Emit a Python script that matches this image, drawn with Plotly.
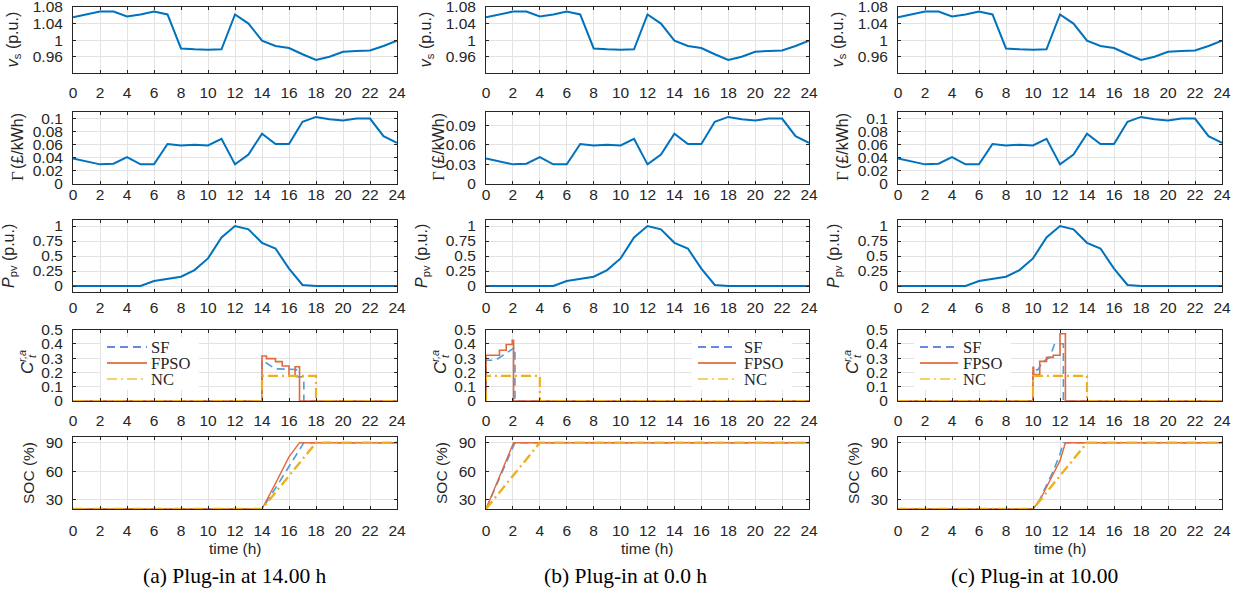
import plotly.graph_objects as go

W, H = 1240, 597

# ---------------- data ----------------
hours = list(range(25))
x_ticks = list(range(0, 25, 2))

v_s = [1.055, 1.062, 1.069, 1.069, 1.057, 1.062, 1.069, 1.062, 0.980, 0.978, 0.977,
       0.978, 1.062, 1.040, 0.999, 0.986, 0.981, 0.966, 0.952, 0.960, 0.972, 0.974,
       0.975, 0.986, 0.999]
price = [0.039, 0.0345, 0.030, 0.031, 0.041, 0.030, 0.030, 0.061, 0.059, 0.060, 0.059,
         0.069, 0.030, 0.045, 0.077, 0.061, 0.061, 0.095, 0.1025, 0.099, 0.097, 0.100,
         0.100, 0.073, 0.063]
p_pv = [0, 0, 0, 0, 0, 0, 0.083, 0.116, 0.155, 0.265, 0.46, 0.81, 1.0, 0.945, 0.72,
        0.624, 0.29, 0.017, 0, 0, 0, 0, 0, 0, 0]

# charging rate C_t^{r,a}  (a) plug-in 14.00 h
sf_rate_a_t = [0, 14, 14, 15.0, 16.55, 16.55, 17.1, 17.1, 24]
sf_rate_a_v = [0, 0, 0.285, 0.225, 0.22, 0.17, 0.17, 0, 0]
fpso_rate_a_t = [0, 14, 14, 14.33, 15.0, 15.5, 16.0, 16.45, 16.78, 16.78, 24]
fpso_rate_a_v = [0, 0, 0.315, 0.296, 0.275, 0.245, 0.176, 0.24, 0.24, 0, 0]
nc_rate_a_t = [0, 14, 14, 18, 18, 24]
nc_rate_a_v = [0, 0, 0.175, 0.175, 0, 0]

# (b) plug-in 0.0 h
sf_rate_b_t = [0, 0, 0.7, 2.0, 2.15, 2.15, 24]
sf_rate_b_v = [0, 0.285, 0.285, 0.37, 0.375, 0, 0]
fpso_rate_b_t = [0, 0, 1.0, 1.5, 1.95, 2.05, 2.05, 24]
fpso_rate_b_v = [0, 0.32, 0.355, 0.395, 0.425, 0.425, 0, 0]
nc_rate_b_t = [0, 0, 4, 4, 24]
nc_rate_b_v = [0, 0.175, 0.175, 0, 0]

# (c) plug-in 10.00 h
sf_rate_c_t = [0, 10, 10, 10.35, 10.75, 11.25, 11.6, 12.25, 12.25, 24]
sf_rate_c_v = [0, 0, 0.218, 0.218, 0.277, 0.305, 0.40, 0.40, 0, 0]
fpso_rate_c_t = [0, 10, 10, 10.05, 10.5, 11.0, 11.5, 12.0, 12.4, 12.4, 24]
fpso_rate_c_v = [0, 0, 0.235, 0.185, 0.277, 0.305, 0.32, 0.47, 0.47, 0, 0]
nc_rate_c_t = [0, 10, 10, 14, 14, 24]
nc_rate_c_v = [0, 0, 0.175, 0.175, 0, 0]

# state of charge (%)
sf_soc_a_t = [0, 14, 15, 16, 17.1, 24]
sf_soc_a_v = [20, 20, 42, 65, 90, 90]
fpso_soc_a_t = [0, 14, 15, 16, 16.78, 24]
fpso_soc_a_v = [20, 20, 47, 75, 90, 90]
nc_soc_a_t = [0, 14, 18, 24]
nc_soc_a_v = [20, 20, 90, 90]

sf_soc_b_t = [0, 1, 2.15, 24]
sf_soc_b_v = [20, 52, 90, 90]
fpso_soc_b_t = [0, 1, 2.05, 24]
fpso_soc_b_v = [20, 55, 90, 90]
nc_soc_b_t = [0, 4, 24]
nc_soc_b_v = [20, 90, 90]

sf_soc_c_t = [0, 10, 10.5, 11, 11.5, 12, 12.25, 24]
sf_soc_c_v = [20, 20, 30, 45, 60, 78, 90, 90]
fpso_soc_c_t = [0, 10, 10.5, 11, 11.5, 12, 12.4, 24]
fpso_soc_c_v = [20, 20, 29, 43, 56, 71, 90, 90]
nc_soc_c_t = [0, 10, 14, 24]
nc_soc_c_v = [20, 20, 90, 90]

legend_names = ["SF", "FPSO", "NC"]
captions = ["(a) Plug-in at 14.00 h", "(b) Plug-in at 0.0 h", "(c) Plug-in at 10.00"]

vs_ticks = [0.96, 1, 1.04, 1.08]
vs_ticktext = ["0.96", "1", "1.04", "1.08"]
price_ticks_ac = [0, 0.02, 0.04, 0.06, 0.08, 0.1]
price_ticktext_ac = ["0", "0.02", "0.04", "0.06", "0.08", "0.1"]
price_ticks_b = [0, 0.03, 0.06, 0.09]
price_ticktext_b = ["0", "0.03", "0.06", "0.09"]
pv_ticks = [0, 0.25, 0.5, 0.75, 1]
pv_ticktext = ["0", "0.25", "0.5", "0.75", "1"]
rate_ticks = [0, 0.1, 0.2, 0.3, 0.4, 0.5]
rate_ticktext = ["0", "0.1", "0.2", "0.3", "0.4", "0.5"]
soc_ticks = [30, 60, 90]
soc_ticktext = ["30", "60", "90"]

# ---------------- style / layout ----------------
BLUE = "#0072BD"
SF_C, FPSO_C, NC_C = "#4C9EDD", "#E2693C", "#EDB120"
SF_LEG, FPSO_LEG, NC_LEG = "#3560E0", "#D95319", "#F3D26E"
SANS = "Liberation Sans, Arial, sans-serif"
SERIF = "Liberation Serif, Times New Roman, serif"
TXT = "#262626"

col_left = [73, 486, 898]
col_right = [397, 809, 1222]
row_top = [7, 112, 220, 329.5, 437]
row_bot = [73.3, 184, 292, 401, 509]
x_standoff = [5, -4, 1, 5, 7]


def fx(px):
    return px / W


def fy(py):
    return 1 - py / H


fig = go.Figure()

rate_data = [
    (sf_rate_a_t, sf_rate_a_v, fpso_rate_a_t, fpso_rate_a_v, nc_rate_a_t, nc_rate_a_v),
    (sf_rate_b_t, sf_rate_b_v, fpso_rate_b_t, fpso_rate_b_v, nc_rate_b_t, nc_rate_b_v),
    (sf_rate_c_t, sf_rate_c_v, fpso_rate_c_t, fpso_rate_c_v, nc_rate_c_t, nc_rate_c_v),
]
soc_data = [
    (sf_soc_a_t, sf_soc_a_v, fpso_soc_a_t, fpso_soc_a_v, nc_soc_a_t, nc_soc_a_v),
    (sf_soc_b_t, sf_soc_b_v, fpso_soc_b_t, fpso_soc_b_v, nc_soc_b_t, nc_soc_b_v),
    (sf_soc_c_t, sf_soc_c_v, fpso_soc_c_t, fpso_soc_c_v, nc_soc_c_t, nc_soc_c_v),
]

SF_DASH = "8px,5px"
NC_DASH = "10px,4px,2px,4px"

annotations = []
shapes = []

for r in range(5):
    for c in range(3):
        n = r * 3 + c + 1
        xid = "x" if n == 1 else f"x{n}"
        yid = "y" if n == 1 else f"y{n}"
        xname = "xaxis" if n == 1 else f"xaxis{n}"
        yname = "yaxis" if n == 1 else f"yaxis{n}"

        if r == 0:
            yr, tv, tt = [0.92, 1.08], vs_ticks, vs_ticktext
            fig.add_trace(go.Scatter(x=hours, y=v_s, mode="lines", xaxis=xid, yaxis=yid,
                                     line=dict(color=BLUE, width=2), showlegend=False))
        elif r == 1:
            yr = [0, 0.11]
            tv, tt = (price_ticks_b, price_ticktext_b) if c == 1 else (price_ticks_ac, price_ticktext_ac)
            fig.add_trace(go.Scatter(x=hours, y=price, mode="lines", xaxis=xid, yaxis=yid,
                                     line=dict(color=BLUE, width=2), showlegend=False))
        elif r == 2:
            yr, tv, tt = [-0.1, 1.1], pv_ticks, pv_ticktext
            fig.add_trace(go.Scatter(x=hours, y=p_pv, mode="lines", xaxis=xid, yaxis=yid,
                                     line=dict(color=BLUE, width=2), showlegend=False))
        elif r == 3:
            yr, tv, tt = [0, 0.5], rate_ticks, rate_ticktext
            st, sv, ft, fv, nt, nv = rate_data[c]
            fig.add_trace(go.Scatter(x=st, y=sv, mode="lines", xaxis=xid, yaxis=yid,
                                     line=dict(color=SF_C, width=1.6, dash=SF_DASH), showlegend=False))
            fig.add_trace(go.Scatter(x=ft, y=fv, mode="lines", xaxis=xid, yaxis=yid,
                                     line=dict(color=FPSO_C, width=1.6, shape="hv"), showlegend=False))
            fig.add_trace(go.Scatter(x=nt, y=nv, mode="lines", xaxis=xid, yaxis=yid,
                                     line=dict(color=NC_C, width=2.2, dash=NC_DASH), showlegend=False))
        else:
            yr, tv, tt = [20, 96], soc_ticks, soc_ticktext
            st, sv, ft, fv, nt, nv = soc_data[c]
            fig.add_trace(go.Scatter(x=st, y=sv, mode="lines", xaxis=xid, yaxis=yid,
                                     line=dict(color=SF_C, width=1.6, dash=SF_DASH), showlegend=False))
            fig.add_trace(go.Scatter(x=ft, y=fv, mode="lines", xaxis=xid, yaxis=yid,
                                     line=dict(color=FPSO_C, width=1.4), showlegend=False))
            fig.add_trace(go.Scatter(x=nt, y=nv, mode="lines", xaxis=xid, yaxis=yid,
                                     line=dict(color=NC_C, width=2.4, dash=NC_DASH), showlegend=False))

        common = dict(ticks="inside", ticklen=3, tickcolor=TXT, showline=True, linecolor=TXT,
                      linewidth=1, mirror="ticks", showgrid=True, gridcolor="#E3E3E3",
                      gridwidth=1, zeroline=False, automargin=False, ticklabeloverflow="allow",
                      tickfont=dict(family=SANS, size=15.5, color=TXT))
        fig.layout[xname] = dict(domain=[fx(col_left[c]), fx(col_right[c])], range=[0, 24],
                                 tickmode="array", tickvals=x_ticks, anchor=yid,
                                 ticklabelstandoff=x_standoff[r], **common)
        fig.layout[yname] = dict(domain=[fy(row_bot[r]), fy(row_top[r])], range=yr,
                                 tickmode="array", tickvals=tv, ticktext=tt, anchor=xid,
                                 ticklabelstandoff=6, **common)

# ---------------- y-axis titles ----------------
row_mid = [(row_top[i] + row_bot[i]) / 2 for i in range(5)]
for c in range(3):
    L = col_left[c]
    annotations.append(dict(text="<i>v</i><sub>s</sub> (p.u.)", x=fx(L - 60), y=fy(row_mid[0]),
                            textangle=-90, font=dict(family=SANS, size=16, color=TXT)))
    gshift = 8 if c == 1 else 0
    annotations.append(dict(text="(£/kWh)", x=fx(L - 56 + gshift), y=fy(141),
                            textangle=-90, font=dict(family=SANS, size=16, color=TXT)))
    annotations.append(dict(text="Γ", x=fx(L - 56 + gshift), y=fy(176),
                            textangle=-90, font=dict(family=SERIF, size=17, color=TXT)))
    annotations.append(dict(text="<i>P</i><sub>pv</sub> (p.u.)", x=fx(L - 64), y=fy(row_mid[2]),
                            textangle=-90, font=dict(family=SANS, size=16, color=TXT)))
    annotations.append(dict(text="<i>C</i>", x=fx(L - 46), y=fy(368),
                            textangle=-90, font=dict(family=SANS, size=17, color=TXT)))
    annotations.append(dict(text="<i>r,a</i>", x=fx(L - 51), y=fy(356),
                            textangle=-90, font=dict(family=SANS, size=11, color=TXT)))
    annotations.append(dict(text="<i>t</i>", x=fx(L - 41), y=fy(356),
                            textangle=-90, font=dict(family=SANS, size=11, color=TXT)))
    annotations.append(dict(text="SOC (%)", x=fx(L - 44), y=fy(row_mid[4]),
                            textangle=-90, font=dict(family=SANS, size=15.5, color=TXT)))
    mid = (col_left[c] + col_right[c]) / 2
    annotations.append(dict(text="time (h)", x=fx(mid), y=fy(548),
                            font=dict(family=SANS, size=15.5, color=TXT)))

caption_x = [235, 625, 1034]
for c in range(3):
    annotations.append(dict(text=captions[c], x=fx(caption_x[c]), y=fy(576),
                            font=dict(family=SERIF, size=21.5, color="black")))

# ---------------- legends ----------------
leg_line = [(34, 74, 76), (212, 250, 256), (22, 60, 63)]
leg_rows = [347, 363, 379]
leg_styles = [(SF_LEG, 1.6, SF_DASH), (FPSO_LEG, 1.6, "solid"), (NC_LEG, 2.2, NC_DASH)]
for c in range(3):
    L = col_left[c]
    x0, x1, xt = leg_line[c]
    shapes.append(dict(type="rect", xref="paper", yref="paper",
                       x0=fx(L + x0 - 6), x1=fx(L + xt + 50), y0=fy(390), y1=fy(337),
                       fillcolor="white", line=dict(width=0), layer="above"))
    for k in range(3):
        col, wdt, dsh = leg_styles[k]
        shapes.append(dict(type="line", xref="paper", yref="paper",
                           x0=fx(L + x0), x1=fx(L + x1), y0=fy(leg_rows[k]), y1=fy(leg_rows[k]),
                           line=dict(color=col, width=wdt, dash=dsh), layer="above"))
        annotations.append(dict(text=legend_names[k], x=fx(L + xt), y=fy(leg_rows[k]),
                                xanchor="left", font=dict(family=SERIF, size=16.5, color=TXT)))

for a in annotations:
    a.setdefault("xref", "paper")
    a.setdefault("yref", "paper")
    a.setdefault("showarrow", False)
    a.setdefault("xanchor", "center")
    a.setdefault("yanchor", "middle")

fig.update_layout(width=W, height=H, margin=dict(l=0, r=0, t=0, b=0, autoexpand=False),
                  paper_bgcolor="white", plot_bgcolor="white",
                  annotations=annotations, shapes=shapes, showlegend=False)

fig.write_html("out.html")
